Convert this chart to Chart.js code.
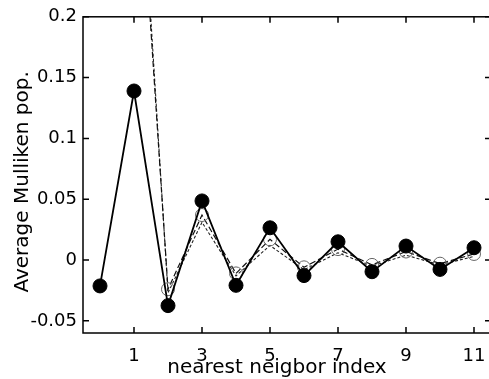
<!DOCTYPE html>
<html><head><meta charset="utf-8">
<script src="https://cdn.jsdelivr.net/npm/chart.js@4"></script>
<style>html,body{margin:0;padding:0;overflow:hidden;background:#fff}#wrap{width:499px;height:379px}</style>
</head><body><div id="wrap"><canvas id="c" width="499" height="379"></canvas></div>
<script>
const neighborIndex = [0,1,2,3,4,5,6,7,8,9,10,11];
const popFilled = [-0.0213,0.139,-0.0375,0.0486,-0.0208,0.0265,-0.0128,0.015,-0.0096,0.0115,-0.0077,0.0101];
const popOpen = [null,0.40,-0.024,0.037,-0.011,0.017,-0.006,0.009,-0.004,0.007,-0.003,0.005];
const popDashed = [null,0.42,-0.027,0.031,-0.013,0.012,-0.008,0.006,-0.005,0.004,-0.004,0.003];
const xTicks = [1,3,5,7,9,11];
const yTicks = [-0.05,0,0.05,0.1,0.15,0.2];
const yTickLabels = ['-0.05','0','0.05','0.1','0.15','0.2'];
const xTitle = 'nearest neigbor index';
const yTitle = 'Average Mulliken pop.';

const toPts = arr => neighborIndex.map((x,i)=>({x:x,y:arr[i]})).filter(p=>p.y!==null);
const FONT = 'DejaVu Sans';

const boxPlugin = {
  id:'box',
  afterDraw(chart){
    const {ctx, chartArea:a, scales:{x,y}} = chart;
    ctx.save();
    ctx.strokeStyle='#000'; ctx.lineWidth=1.5;
    ctx.strokeRect(a.left, a.top, a.right-a.left, a.bottom-a.top);
    const L=6;
    ctx.beginPath();
    xTicks.forEach(v=>{const px=x.getPixelForValue(v);
      ctx.moveTo(px,a.bottom); ctx.lineTo(px,a.bottom-L);
      ctx.moveTo(px,a.top); ctx.lineTo(px,a.top+L);});
    yTicks.forEach(v=>{const py=y.getPixelForValue(v);
      ctx.moveTo(a.left,py); ctx.lineTo(a.left+L,py);
      ctx.moveTo(a.right,py); ctx.lineTo(a.right-L,py);});
    ctx.stroke();
    // axis titles
    ctx.fillStyle='#000';
    ctx.font = '20px "' + FONT + '"';
    ctx.textAlign='center';
    ctx.textBaseline='alphabetic';
    ctx.fillText(xTitle, (a.left+a.right)/2 - 10, 373);
    ctx.translate(23, (a.top+a.bottom)/2 + 7);
    ctx.rotate(-Math.PI/2);
    ctx.textBaseline='middle';
    ctx.fillText(yTitle, 0, 0);
    ctx.restore();
  }
};

new Chart(document.getElementById('c'), {
  type:'line',
  data:{datasets:[
    {data:toPts(popFilled), borderColor:'#000', borderWidth:1.8, pointRadius:7, pointBackgroundColor:'#000', pointBorderColor:'#000', pointBorderWidth:1, order:0},
    {data:toPts(popOpen), borderColor:'#111', borderWidth:1.2, borderDash:[6,3], pointRadius:6.5, pointBackgroundColor:'rgba(255,255,255,0)', pointBorderColor:'#666', pointBorderWidth:1, order:1},
    {data:toPts(popDashed), borderColor:'#222', borderWidth:1.1, borderDash:[3,2], pointRadius:0, order:2}
  ]},
  options:{
    responsive:false, animation:false,
    layout:{padding:{left:0,right:1,top:16,bottom:0}},
    plugins:{legend:{display:false}, tooltip:{enabled:false}},
    elements:{line:{tension:0}},
    scales:{
      x:{type:'linear', min:-0.5, max:11.5,
        afterBuildTicks:s=>{s.ticks=xTicks.map(v=>({value:v}));},
        afterFit:s=>{s.height=46;},
        grid:{display:false, drawTicks:false},
        border:{display:false},
        ticks:{color:'#000', font:{family:FONT,size:18}, padding:13, maxRotation:0,
          callback:v=>String(v)},
        title:{display:false, text:xTitle}
      },
      y:{type:'linear', min:-0.06, max:0.2,
        afterBuildTicks:s=>{s.ticks=yTicks.map(v=>({value:v}));},
        afterFit:s=>{s.width=83;},
        grid:{display:false, drawTicks:false},
        border:{display:false},
        ticks:{color:'#000', font:{family:FONT,size:18}, padding:6,
          callback:(v)=>{const i=yTicks.findIndex(t=>Math.abs(t-v)<1e-9); return i>=0?yTickLabels[i]:'';}},
        title:{display:false, text:yTitle}
      }
    }
  },
  plugins:[boxPlugin]
});
</script></body></html>
